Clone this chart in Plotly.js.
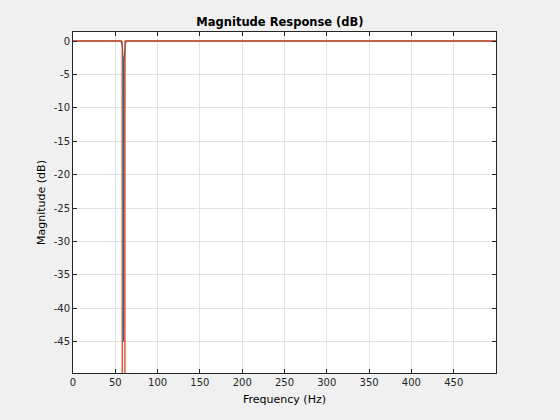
<!DOCTYPE html>
<html>
<head>
<meta charset="utf-8">
<script src="https://cdn.plot.ly/plotly-3.0.1.min.js"></script>
<style>html,body{margin:0;padding:0;background:#f0f0f0;}#chart{width:560px;height:420px;}</style>
</head>
<body>
<div id="chart"></div>
<script>
// Filter 1 (blue): shallow notch with spike near 60 Hz
const freq1 = [0, 50, 56, 57.5, 58.5, 59.3, 59.8, 60.3, 61.1, 62.1, 63.5, 70, 200, 400, 500];
const mag1  = [0, 0, 0, -0.3, -1.0, -3.0, -45, -3.0, -1.0, -0.3, 0, 0, 0, 0, 0];
// Filter 2 (red): deep notch near 60 Hz (floor below axis)
const freq2 = [0, 50, 57.5, 58.2, 58.3, 60.7, 60.8, 61.5, 70, 200, 400, 500];
const mag2  = [0, 0, 0, -0.3, -400, -400, -0.3, 0, 0, 0, 0, 0];
const xTicks = [0, 50, 100, 150, 200, 250, 300, 350, 400, 450];
const yTicks = [0, -5, -10, -15, -20, -25, -30, -35, -40, -45];

const fam = 'DejaVu Sans, Arial, sans-serif';
const font = {family: fam, size: 10, color: '#262626'};
const axisCommon = {
  showline: true, linecolor: '#262626', linewidth: 1, mirror: 'ticks',
  ticks: 'inside', ticklen: 4, tickcolor: '#262626',
  showgrid: true, gridcolor: '#e3e3e3', gridwidth: 1,
  zeroline: false, tickfont: font
};
const data = [
  {x: freq1, y: mag1, type: 'scatter', mode: 'lines', line: {color: '#0072BD', width: 1.2}, showlegend: false},
  {x: freq2, y: mag2, type: 'scatter', mode: 'lines', line: {color: '#DB4517', width: 1.3}, showlegend: false}
];
const layout = {
  width: 560, height: 420,
  paper_bgcolor: '#f0f0f0', plot_bgcolor: '#ffffff',
  margin: {l: 73, r: 64, t: 32, b: 47},
  title: {text: '<b>Magnitude Response (dB)</b>', font: {family: fam, size: 11.5, color: '#000'}, x: 0.5, xanchor: 'center', y: 0.947, yanchor: 'middle'},
  xaxis: Object.assign({}, axisCommon, {
    range: [0, 500], tickvals: xTicks, ticktext: xTicks.map(String),
    title: {text: 'Frequency (Hz)', font: {family: fam, size: 11, color: '#000'}, standoff: 8}
  }),
  yaxis: Object.assign({}, axisCommon, {
    range: [-49.67, 1.35], tickvals: yTicks, ticktext: yTicks.map(String),
    title: {text: 'Magnitude (dB)', font: {family: fam, size: 11, color: '#000'}, standoff: 5}
  })
};
Plotly.newPlot('chart', data, layout, {displayModeBar: false, staticPlot: true});
</script>
</body>
</html>
